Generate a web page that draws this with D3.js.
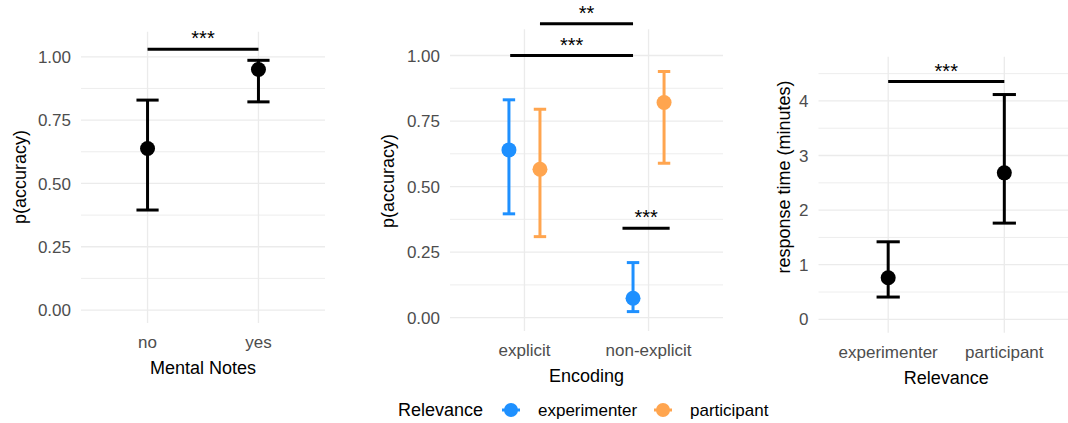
<!DOCTYPE html>
<html>
<head>
<meta charset="utf-8">
<script src="https://cdn.jsdelivr.net/npm/d3@7"></script>
<style>
  body { margin: 0; background: #fff; }
  svg { display: block; font-family: "Liberation Sans", Arial, sans-serif; }
</style>
</head>
<body>
<svg id="chart" width="1068" height="423"></svg>
<script>
// ---- data ----
const notesCats = ['no', 'yes'];
const notesMean = [0.638, 0.950];
const notesLow = [0.395, 0.822];
const notesHigh = [0.829, 0.986];

const encodingCats = ['explicit', 'non-explicit'];
const relevanceCats = ['experimenter', 'participant'];
const expMean = [0.640, 0.074];
const expLow = [0.396, 0.023];
const expHigh = [0.831, 0.210];
const partMean = [0.566, 0.821];
const partLow = [0.309, 0.589];
const partHigh = [0.795, 0.939];

const rtMean = [0.761, 2.683];
const rtLow = [0.408, 1.762];
const rtHigh = [1.420, 4.117];

const accTicks = [0, 0.25, 0.5, 0.75, 1];
const rtTicks = [0, 1, 2, 3, 4];

// significance brackets, x in category units (1 = first category)
const notesSig = [{ x1: 1, x2: 2, y: 1.03, label: '***' }];
const encodingSig = [
    { x1: 1.125, x2: 1.875, y: 1.121, label: '**' },
    { x1: 0.885, x2: 1.875, y: 1.0, label: '***' },
    { x1: 1.79, x2: 2.17, y: 0.341, label: '***' }
];
const rtSig = [{ x1: 1, x2: 2, y: 4.355, label: '***' }];

const relColors = { experimenter: '#1E90FF', participant: '#FFA54F' };

const svg = d3.select('#chart');

// Function to draw one panel
function drawPanel(opt) {
    const x = d3.scaleLinear().domain([0.4, 2.6]).range([opt.left, opt.right]);
    const y = d3.scaleLinear().domain(opt.yDomain).range([opt.bottom, opt.top]);
    const g = svg.append('g');

    // minor gridlines
    g.selectAll('.minor')
        .data(opt.minor)
        .enter().append('line')
        .attr('x1', opt.left).attr('x2', opt.right)
        .attr('y1', d => y(d)).attr('y2', d => y(d))
        .attr('stroke', '#EBEBEB').attr('stroke-width', 0.9);

    // major gridlines
    g.selectAll('.major')
        .data(opt.ticks)
        .enter().append('line')
        .attr('x1', opt.left).attr('x2', opt.right)
        .attr('y1', d => y(d)).attr('y2', d => y(d))
        .attr('stroke', '#EBEBEB').attr('stroke-width', 1.3);

    g.selectAll('.vgrid')
        .data(opt.cats)
        .enter().append('line')
        .attr('x1', (d, i) => x(i + 1)).attr('x2', (d, i) => x(i + 1))
        .attr('y1', opt.top).attr('y2', opt.bottom)
        .attr('stroke', '#EBEBEB').attr('stroke-width', 1.3);

    // y tick labels
    g.selectAll('.ytick')
        .data(opt.ticks)
        .enter().append('text')
        .attr('x', opt.left - 10)
        .attr('y', d => y(d))
        .attr('dy', '0.36em')
        .attr('text-anchor', 'end')
        .attr('font-size', '17px')
        .attr('fill', '#4D4D4D')
        .text(opt.tickFormat);

    // x tick labels
    g.selectAll('.xtick')
        .data(opt.cats)
        .enter().append('text')
        .attr('x', (d, i) => x(i + 1))
        .attr('y', opt.bottom + 25)
        .attr('text-anchor', 'middle')
        .attr('font-size', '17px')
        .attr('fill', '#4D4D4D')
        .text(d => d);

    // axis titles
    g.append('text')
        .attr('x', (opt.left + opt.right) / 2)
        .attr('y', opt.bottom + 51)
        .attr('text-anchor', 'middle')
        .attr('font-size', '18px')
        .attr('fill', '#000')
        .text(opt.xTitle);

    g.append('text')
        .attr('transform', `translate(${opt.yTitleX},${opt.yTitleY}) rotate(-90)`)
        .attr('text-anchor', 'middle')
        .attr('font-size', '18px')
        .attr('fill', '#000')
        .text(opt.yTitle);

    // error bars + points
    opt.series.forEach(s => {
        const pts = s.mean.map((m, i) => ({ cx: x(i + 1 + s.dodge), m: m, lo: s.low[i], hi: s.high[i] }));
        const hw = (x(1 + opt.barWidth / 2) - x(1));
        const eb = g.append('g').attr('stroke', s.color).attr('stroke-width', 3).attr('fill', 'none');
        pts.forEach(p => {
            eb.append('line').attr('x1', p.cx).attr('x2', p.cx).attr('y1', y(p.lo)).attr('y2', y(p.hi));
            eb.append('line').attr('x1', p.cx - hw).attr('x2', p.cx + hw).attr('y1', y(p.lo)).attr('y2', y(p.lo));
            eb.append('line').attr('x1', p.cx - hw).attr('x2', p.cx + hw).attr('y1', y(p.hi)).attr('y2', y(p.hi));
        });
        g.selectAll(null)
            .data(pts)
            .enter().append('circle')
            .attr('cx', d => d.cx)
            .attr('cy', d => y(d.m))
            .attr('r', 7.5)
            .attr('fill', s.color);
    });

    // significance brackets
    opt.sig.forEach(b => {
        g.append('line')
            .attr('x1', x(b.x1)).attr('x2', x(b.x2))
            .attr('y1', y(b.y)).attr('y2', y(b.y))
            .attr('stroke', '#000').attr('stroke-width', 3);
        g.append('text')
            .attr('x', (x(b.x1) + x(b.x2)) / 2)
            .attr('y', y(b.y) - 4)
            .attr('text-anchor', 'middle')
            .attr('font-size', '20px')
            .attr('fill', '#000')
            .text(b.label);
    });
}

const fmt2 = d3.format('.2f');

drawPanel({
    left: 81, right: 325, top: 31.7, bottom: 323,
    yDomain: [-0.051, 1.099],
    ticks: accTicks, minor: [0.125, 0.375, 0.625, 0.875],
    tickFormat: fmt2,
    cats: notesCats,
    xTitle: 'Mental Notes', yTitle: 'p(accuracy)',
    yTitleX: 26, yTitleY: 177,
    barWidth: 0.2,
    series: [{ mean: notesMean, low: notesLow, high: notesHigh, color: '#000', dodge: 0 }],
    sig: notesSig
});

drawPanel({
    left: 450, right: 723, top: 29.3, bottom: 331,
    yDomain: [-0.051, 1.100],
    ticks: accTicks, minor: [0.125, 0.375, 0.625, 0.875],
    tickFormat: fmt2,
    cats: encodingCats,
    xTitle: 'Encoding', yTitle: 'p(accuracy)',
    yTitleX: 394, yTitleY: 181,
    barWidth: 0.1,
    series: [
        { mean: expMean, low: expLow, high: expHigh, color: relColors.experimenter, dodge: -0.125 },
        { mean: partMean, low: partLow, high: partHigh, color: relColors.participant, dodge: 0.125 }
    ],
    sig: encodingSig
});

drawPanel({
    left: 818.5, right: 1074, top: 56.7, bottom: 332.7,
    yDomain: [-0.245, 4.81],
    ticks: rtTicks, minor: [0.5, 1.5, 2.5, 3.5, 4.5],
    tickFormat: d3.format('d'),
    cats: relevanceCats,
    xTitle: 'Relevance', yTitle: 'response time (minutes)',
    yTitleX: 790, yTitleY: 177,
    barWidth: 0.2,
    series: [{ mean: rtMean, low: rtLow, high: rtHigh, color: '#000', dodge: 0 }],
    sig: rtSig
});

// legend
const legend = svg.append('g');
legend.append('text')
    .attr('x', 398).attr('y', 410).attr('dy', '0.36em')
    .attr('font-size', '18px').attr('fill', '#000')
    .text('Relevance');
const keyX = [511, 663];
relevanceCats.forEach((c, i) => {
    legend.append('line')
        .attr('x1', keyX[i] - 9).attr('x2', keyX[i] + 9)
        .attr('y1', 410).attr('y2', 410)
        .attr('stroke', relColors[c]).attr('stroke-width', 3);
    legend.append('circle')
        .attr('cx', keyX[i]).attr('cy', 410).attr('r', 7)
        .attr('fill', relColors[c]);
    legend.append('text')
        .attr('x', keyX[i] + 27).attr('y', 410).attr('dy', '0.36em')
        .attr('font-size', '17px').attr('fill', '#000')
        .text(c);
});
</script>
</body>
</html>
